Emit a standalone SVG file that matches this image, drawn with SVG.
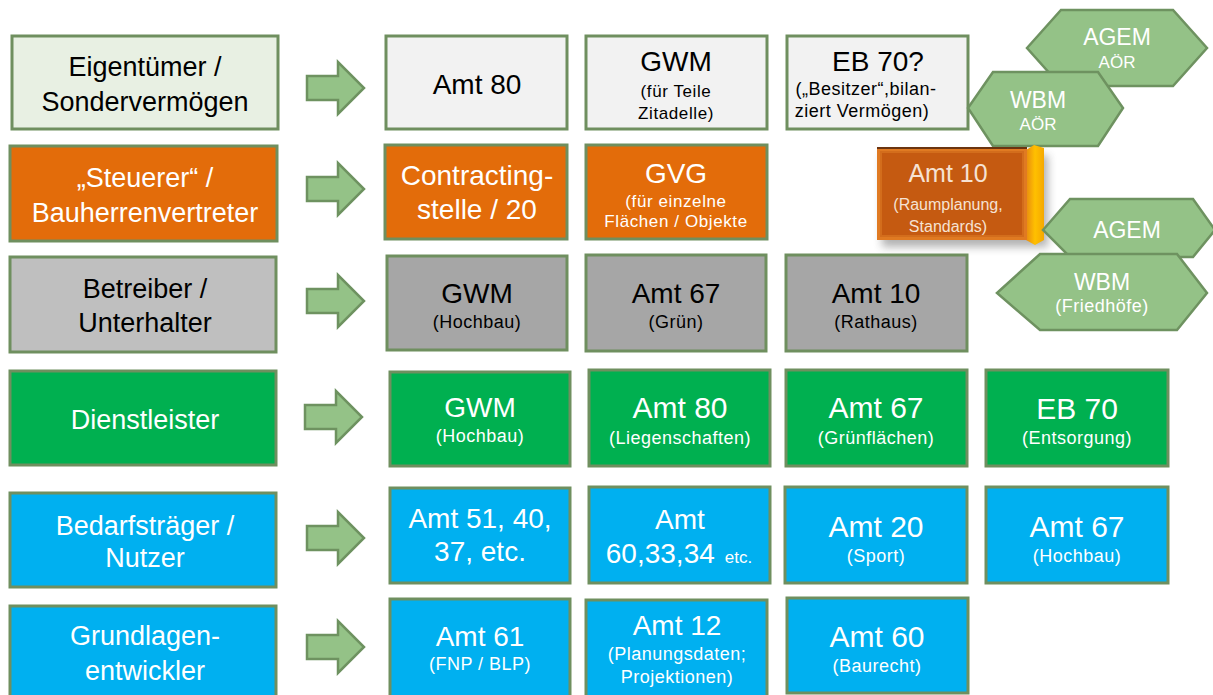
<svg xmlns="http://www.w3.org/2000/svg" width="1213" height="695" viewBox="0 0 1213 695">
<style>
text{font-family:"Liberation Sans",Arial,sans-serif;text-anchor:middle}
.box{stroke:#6f8f5f;stroke-width:3}
.hex{fill:#94c287;stroke:#6e9260;stroke-width:2.5}
.arr{fill:#94c287;stroke:#6e9260;stroke-width:2.5;stroke-linejoin:miter}
.L{font-size:27px}
.M{font-size:28px}
.B{font-size:30px}
.S{font-size:18px;letter-spacing:0.5px}
.s{font-size:17px;letter-spacing:0.6px}
.k{fill:#000}
.w{fill:#fff}
.pale{fill:#e8f0e3}
.lg{fill:#f2f2f2}
.or{fill:#e36c0a}
.g1{fill:#bfbfbf}
.g2{fill:#a6a6a6}
.gr{fill:#00b050}
.bl{fill:#00b0f0}
</style>
<defs>
<polygon id="arrow" class="arr" points="0,-12 31,-12 31,-26 57,0 31,26 31,12 0,12"/>
<linearGradient id="bevel" x1="0" y1="0" x2="1" y2="0">
<stop offset="0" stop-color="#e88a10"/>
<stop offset="0.5" stop-color="#ffc000"/>
<stop offset="1" stop-color="#f5a800"/>
</linearGradient>
<filter id="shadow" x="-20%" y="-20%" width="150%" height="150%">
<feGaussianBlur stdDeviation="4"/>
</filter>
</defs>
<rect width="1213" height="695" fill="#fff"/>

<g id="connectors">
<use href="#arrow" x="307" y="88"/>
<use href="#arrow" x="307" y="189"/>
<use href="#arrow" x="307" y="301"/>
<use href="#arrow" x="305" y="417"/>
<use href="#arrow" x="307" y="538"/>
<use href="#arrow" x="307" y="647"/>
</g>

<!-- left column -->
<g id="eigentuemer"><rect class="box pale" x="12" y="36" width="266" height="93"/>
<text class="L k" x="145" y="76">Eigentümer /</text><text class="L k" x="145" y="111">Sondervermögen</text></g>
<g id="steuerer"><rect class="box or" x="10" y="146" width="267" height="95"/>
<text class="L w" x="145" y="187">„Steuerer“ /</text><text class="L w" x="145" y="222">Bauherrenvertreter</text></g>
<g id="betreiber"><rect class="box g1" x="10" y="257" width="266" height="95"/>
<text class="L k" x="145" y="298">Betreiber /</text><text class="L k" x="145" y="332">Unterhalter</text></g>
<g id="dienstleister"><rect class="box gr" x="10" y="371" width="266" height="94"/>
<text class="L w" x="145" y="429">Dienstleister</text></g>
<g id="bedarfstraeger"><rect class="box bl" x="10" y="493" width="266" height="94"/>
<text class="L w" x="145" y="535">Bedarfsträger /</text><text class="L w" x="145" y="567">Nutzer</text></g>
<g id="grundlagen"><rect class="box bl" x="10" y="606" width="266" height="96"/>
<text class="L w" x="145" y="645">Grundlagen-</text><text class="L w" x="145" y="680">entwickler</text></g>

<!-- row 1 -->
<g id="amt80a"><rect class="box lg" x="386" y="36" width="181" height="93"/>
<text class="M k" x="477" y="94">Amt 80</text></g>
<g id="gwm1"><rect class="box lg" x="586" y="36" width="181" height="93"/>
<text class="M k" x="676" y="71">GWM</text><text class="s k" x="676" y="97">(für Teile</text><text class="s k" x="676" y="119">Zitadelle)</text></g>
<g id="eb70q"><rect class="box lg" x="787" y="36" width="181" height="93"/>
<text class="M k" x="878" y="71">EB 70?</text><text class="S k" x="866" y="95">(„Besitzer“,bilan-</text><text class="S k" x="862" y="117">ziert Vermögen)</text></g>

<!-- row 2 -->
<g id="contracting"><rect class="box or" x="385" y="145" width="182" height="94"/>
<text class="M w" x="477" y="185">Contracting-</text><text class="M w" x="477" y="219">stelle / 20</text></g>
<g id="gvg"><rect class="box or" x="586" y="145" width="181" height="94"/>
<text class="M w" x="676" y="183">GVG</text><text class="s w" x="676" y="207">(für einzelne</text><text class="s w" x="676" y="227">Flächen / Objekte</text></g>

<!-- row 3 -->
<g id="gwm3"><rect class="box g2" x="387" y="256" width="180" height="94"/>
<text class="M k" x="477" y="303">GWM</text><text class="S k" x="477" y="328">(Hochbau)</text></g>
<g id="amt67a"><rect class="box g2" x="586" y="255" width="180" height="96"/>
<text class="M k" x="676" y="303">Amt 67</text><text class="S k" x="676" y="328">(Grün)</text></g>
<g id="amt10r"><rect class="box g2" x="786" y="255" width="181" height="96"/>
<text class="M k" x="876" y="303">Amt 10</text><text class="S k" x="876" y="328">(Rathaus)</text></g>

<!-- row 4 -->
<g id="gwm4"><rect class="box gr" x="390" y="372" width="180" height="94"/>
<text class="M w" x="480" y="417">GWM</text><text class="S w" x="480" y="442">(Hochbau)</text></g>
<g id="amt80b"><rect class="box gr" x="589" y="370" width="181" height="96"/>
<text class="B w" x="680" y="418">Amt 80</text><text class="S w" x="680" y="444">(Liegenschaften)</text></g>
<g id="amt67b"><rect class="box gr" x="786" y="370" width="181" height="96"/>
<text class="B w" x="876" y="418">Amt 67</text><text class="S w" x="876" y="444">(Grünflächen)</text></g>
<g id="eb70"><rect class="box gr" x="986" y="370" width="182" height="96"/>
<text class="B w" x="1077" y="419">EB 70</text><text class="S w" x="1077" y="444">(Entsorgung)</text></g>

<!-- row 5 -->
<g id="amt51"><rect class="box bl" x="390" y="488" width="180" height="95"/>
<text class="M w" x="480" y="528">Amt 51, 40,</text><text class="M w" x="480" y="561">37, etc.</text></g>
<g id="amt60b"><rect class="box bl" x="589" y="487" width="181" height="96"/>
<text class="M w" x="680" y="529">Amt</text><text class="w" x="679" y="563"><tspan class="M">60,33,34</tspan><tspan font-size="17px" dx="10">etc.</tspan></text></g>
<g id="amt20"><rect class="box bl" x="785" y="487" width="182" height="96"/>
<text class="B w" x="876" y="537">Amt 20</text><text class="S w" x="876" y="562">(Sport)</text></g>
<g id="amt67c"><rect class="box bl" x="986" y="487" width="182" height="96"/>
<text class="B w" x="1077" y="537">Amt 67</text><text class="S w" x="1077" y="562">(Hochbau)</text></g>

<!-- row 6 -->
<g id="amt61"><rect class="box bl" x="390" y="599" width="180" height="100"/>
<text class="M w" x="480" y="646">Amt 61</text><text class="S w" x="480" y="670">(FNP / BLP)</text></g>
<g id="amt12"><rect class="box bl" x="586" y="600" width="181" height="100"/>
<text class="M w" x="677" y="635">Amt 12</text><text class="S w" x="677" y="660">(Planungsdaten;</text><text class="S w" x="677" y="683">Projektionen)</text></g>
<g id="amt60"><rect class="box bl" x="787" y="598" width="181" height="95"/>
<text class="B w" x="877" y="647">Amt 60</text><text class="S w" x="877" y="672">(Baurecht)</text></g>

<!-- hexagons -->
<g id="agem-aoer"><polygon class="hex" points="1027,48 1061,10 1173,10 1207,48 1173,86 1061,86"/>
<text class="w" font-size="23px" x="1117" y="45">AGEM</text><text class="w" font-size="17px" x="1117" y="68">AÖR</text></g>
<g id="wbm-aoer"><polygon class="hex" points="968,108 993,72 1098,72 1123,108 1098,146 993,146"/>
<text class="w" font-size="23px" x="1038" y="108">WBM</text><text class="w" font-size="17px" x="1038" y="130">AÖR</text></g>

<!-- Amt 10 3D box -->
<g id="amt10-raumplanung">
<rect x="882" y="155" width="166" height="92" fill="#555" opacity="0.45" filter="url(#shadow)"/>
<polygon points="1026,150 1034,145 1044,148 1044,240 1035,245 1026,240" fill="url(#bevel)"/>
<rect x="877" y="148" width="150" height="92" fill="#e07a22"/>
<rect x="881" y="152" width="142" height="84" fill="#c55a11" stroke="#d36d1c" stroke-width="2"/>
<line x1="877" y1="148" x2="1027" y2="148" stroke="#6b3410" stroke-width="2"/>
<text fill="#f6e2d3" font-size="25px" x="948" y="182">Amt 10</text>
<text fill="#f6e2d3" font-size="16px" x="948" y="210">(Raumplanung,</text>
<text fill="#f6e2d3" font-size="16px" x="948" y="232">Standards)</text>
</g>

<g id="agem"><polygon class="hex" points="1043,230 1070,199 1193,199 1215,230 1193,257 1070,257"/>
<text class="w" font-size="23px" x="1127" y="238">AGEM</text></g>
<g id="wbm-friedhoefe"><polygon class="hex" points="997,293 1040,254 1177,254 1207,293 1177,330 1040,330"/>
<text class="w" font-size="23px" x="1102" y="290">WBM</text><text class="S w" x="1102" y="312">(Friedhöfe)</text></g>
</svg>
